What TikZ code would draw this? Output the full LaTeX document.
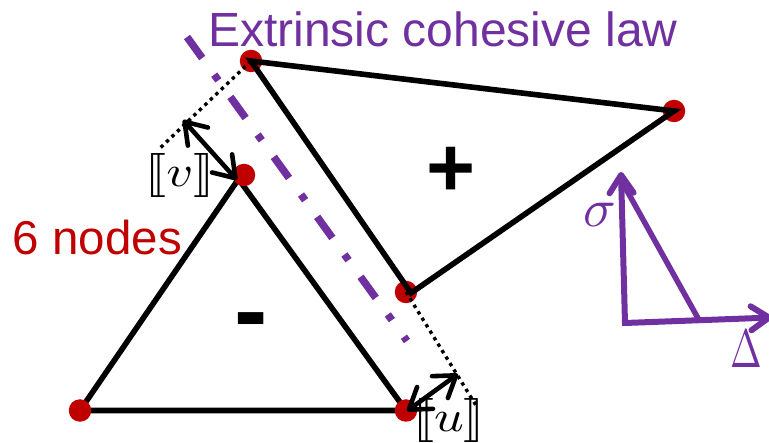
\documentclass[tikz,border=0pt]{standalone}
\usepackage{graphicx}
\usepackage{stmaryrd}
\usepackage{fontspec}
\setmainfont{Liberation Sans}
\usetikzlibrary{arrows.meta}
\definecolor{lawpurple}{HTML}{7030A0}
\definecolor{nodered}{HTML}{C00000}
\tikzset{
  x=1pt,y=-1pt,
  meshpt/.style={circle,fill=nodered,draw=none,minimum size=22.5pt,inner sep=0pt},
  edge/.style={draw=black,line width=5.6pt},
  guide/.style={draw=black,line width=3.4pt,dash pattern=on 3.4pt off 4.2pt},
  jump/.style={draw=black,line width=4.6pt,line cap=round,{Straight Barb[length=20pt,width=27pt,line width=4.6pt,round]}-{Straight Barb[length=20pt,width=27pt,line width=4.6pt,round]}},
  axis/.style={draw=lawpurple,line width=6pt,-{Straight Barb[length=18pt,width=24pt,line width=6pt,round]}},
  label/.style={inner sep=0pt,text=#1},
}
\begin{document}
\begin{tikzpicture}
\useasboundingbox (0,0) rectangle (769,443);
% dash-dotted interface
\coordinate (ifa) at (187,37);
\coordinate (ifb) at (407,341);
\draw[draw=lawpurple,line width=7.5pt,dash pattern=on 26pt off 20.5pt on 7pt off 20.5pt] (ifa) -- (ifb);
% minus element lies under its nodes
\coordinate (ma) at (238.5,179);
\coordinate (mb) at (80,410.5);
\coordinate (mc) at (406,410.5);
\draw[edge] (ma) -- (mb) -- (mc) -- cycle;
% nodes
\node[meshpt] (p1) at (251,61) {};
\node[meshpt] (p2) at (674,111) {};
\node[meshpt] (p3) at (406,292) {};
\node[meshpt] (m1) at (244,175) {};
\node[meshpt] (m2) at (mb) {};
\node[meshpt] (m3) at (mc) {};
% guides
\coordinate (gv) at (158,150);
\coordinate (gu) at (477,407);
\draw[guide] (p1.center) -- (gv);
\draw[guide] (p3.center) -- (gu);
% plus element lies over its nodes
\coordinate (pc) at (411,293);
\draw[edge] (p1.center) -- (p2.center) -- (pc) -- cycle;
% jumps
\coordinate (jv) at (183,120);
\coordinate (jva) at (237,180);
\coordinate (ju) at (458,374);
\coordinate (jua) at (407,411);
\draw[jump] (jv) -- (jva);
\draw[jump] (ju) -- (jua);
% cohesive law
\coordinate (o) at (625,323);
\coordinate (sy) at (621,172);
\coordinate (dx) at (772,317.5);
\coordinate (kink) at (699,320);
\draw[axis] (o) -- (sy);
\draw[axis] (o) -- (dx);
\draw[draw=lawpurple,line width=5.5pt] (sy) ++(0,8) -- (kink);
\draw[draw=lawpurple,line width=6pt] (o) ++(-3,0) -- (o);
% text
\node[label=lawpurple,font=\fontsize{48}{48}\selectfont] (title) at (443,29) {Extrinsic cohesive law};
\node[label=nodered,font=\fontsize{47.5}{48}\selectfont] (six) at (97.5,238) {6 nodes};
\node[label=black,font=\bfseries\fontsize{84}{84}\selectfont] (plus) at (451,172) {+};
\node[label=black,font=\bfseries\fontsize{100}{100}\selectfont] (minus) at (251,329) {-};
\node[label=black] (v) at (180,176) {\scalebox{5.2}[4.4]{$\llbracket v\rrbracket$}};
\node[label=black] (u) at (449,421) {\scalebox{5.2}[4.4]{$\llbracket u\rrbracket$}};
\node[label=lawpurple] (sigma) at (600,215) {\scalebox{5.4}{$\sigma$}};
\node[label=lawpurple] (delta) at (746.5,349) {\scalebox{3.8}[5.4]{$\Delta$}};
\end{tikzpicture}
\end{document}
